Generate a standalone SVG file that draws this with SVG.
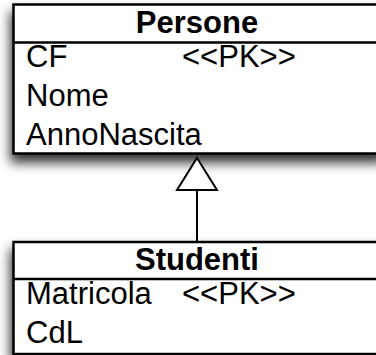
<svg xmlns="http://www.w3.org/2000/svg" width="376" height="355" viewBox="0 0 376 355">
  <style>
    .box { fill: #ffffff; stroke: #000000; stroke-width: 2.5; }
    .sep { stroke: #000000; stroke-width: 2.5; }
    .title { font-family: "Liberation Sans", Arial, sans-serif; font-size: 31px; font-weight: bold; text-anchor: middle; fill: #000; }
    .attr { font-family: "Liberation Sans", Arial, sans-serif; font-size: 31px; fill: #000; }
    .edge { stroke: #000000; stroke-width: 2; fill: none; }
    .head { stroke: #000000; stroke-width: 2; fill: #ffffff; stroke-linejoin: miter; }
  </style>
  <defs>
    <filter id="shadow" x="-20%" y="-20%" width="140%" height="160%">
      <feDropShadow dx="-2" dy="8" stdDeviation="6" flood-color="#000" flood-opacity="0.8"/>
    </filter>
  </defs>
  <rect width="376" height="355" fill="#ffffff"/>

  <!-- superclass -->
  <g id="persone">
    <rect class="box" x="13.5" y="4.5" width="372" height="149" filter="url(#shadow)"/>
    <line class="sep" x1="13.5" y1="42.5" x2="385.5" y2="42.5"/>
    <text class="title" x="197" y="33">Persone</text>
    <text class="attr" x="26" y="67">CF</text>
    <text class="attr" x="182" y="67">&lt;&lt;PK&gt;&gt;</text>
    <text class="attr" x="26" y="106">Nome</text>
    <text class="attr" x="26" y="145">AnnoNascita</text>
  </g>

  <!-- subclass -->
  <g id="studenti">
    <rect class="box" x="13.5" y="242" width="372" height="112" filter="url(#shadow)"/>
    <line class="sep" x1="13.5" y1="279" x2="385.5" y2="279"/>
    <text class="title" x="197" y="270">Studenti</text>
    <text class="attr" x="26" y="304">Matricola</text>
    <text class="attr" x="182" y="304">&lt;&lt;PK&gt;&gt;</text>
    <text class="attr" x="26" y="343">CdL</text>
  </g>

  <!-- generalization: Studenti is-a Persone -->
  <g id="connectors">
    <line class="edge" x1="197" y1="190" x2="197" y2="242"/>
    <polygon class="head" points="197,158 217,190 177,190"/>
  </g>
</svg>
